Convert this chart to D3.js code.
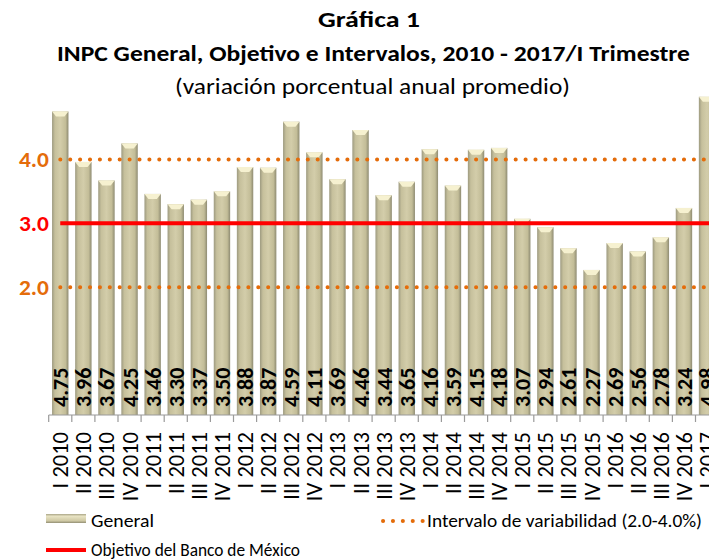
<!DOCTYPE html>
<html>
<head>
<meta charset="utf-8">
<script src="https://cdn.jsdelivr.net/npm/d3@7"></script>
<style>
  body { margin: 0; background: #fff; }
  svg { display: block; font-family: "Carlito", "Liberation Sans Narrow", "DejaVu Sans Condensed", sans-serif; }
</style>
</head>
<body>
<div id="chart"></div>
<script>
  var width = 709;
  var height = 560;

  var categories = ["I 2010","II 2010","III 2010","IV 2010","I 2011","II 2011","III 2011","IV 2011",
    "I 2012","II 2012","III 2012","IV 2012","I 2013","II 2013","III 2013","IV 2013",
    "I 2014","II 2014","III 2014","IV 2014","I 2015","II 2015","III 2015","IV 2015",
    "I 2016","II 2016","III 2016","IV 2016","I 2017"];
  var general = [4.75,3.96,3.67,4.25,3.46,3.30,3.37,3.50,
    3.88,3.87,4.59,4.11,3.69,4.46,3.44,3.65,
    4.16,3.59,4.15,4.18,3.07,2.94,2.61,2.27,
    2.69,2.56,2.78,3.24,4.98];
  var objetivo = 3.0;
  var intervalo = [2.0, 4.0];
  var yTicks = [2.0, 3.0, 4.0];

  var orange = "#e46c0a";
  var red = "#ff0000";

  var svg = d3.select("#chart").append("svg")
      .attr("width", width).attr("height", height);

  var defs = svg.append("defs");
  var grad = defs.append("linearGradient").attr("id", "barGrad")
      .attr("x1", "0%").attr("x2", "100%").attr("y1", "0%").attr("y2", "0%");
  grad.append("stop").attr("offset", "0%").attr("stop-color", "#9d9a80");
  grad.append("stop").attr("offset", "18%").attr("stop-color", "#c6c09c");
  grad.append("stop").attr("offset", "50%").attr("stop-color", "#d3cdaa");
  grad.append("stop").attr("offset", "82%").attr("stop-color", "#c3bd98");
  grad.append("stop").attr("offset", "100%").attr("stop-color", "#8e8b72");

  var gradH = defs.append("linearGradient").attr("id", "legGrad")
      .attr("x1", "0%").attr("x2", "0%").attr("y1", "0%").attr("y2", "100%");
  gradH.append("stop").attr("offset", "0%").attr("stop-color", "#a9a587");
  gradH.append("stop").attr("offset", "25%").attr("stop-color", "#e8e3c3");
  gradH.append("stop").attr("offset", "75%").attr("stop-color", "#cfc9a5");
  gradH.append("stop").attr("offset", "100%").attr("stop-color", "#928e73");

  // titles (the original is slightly stretched horizontally)
  svg.append("text").attr("x", 318).attr("y", 27)
      .attr("textLength", 102).attr("lengthAdjust", "spacingAndGlyphs")
      .style("font-size", "22px").style("font-weight", "bold").text("Gráfica 1");
  svg.append("text").attr("x", 57).attr("y", 61)
      .attr("textLength", 633).attr("lengthAdjust", "spacingAndGlyphs")
      .style("font-size", "22px").style("font-weight", "bold")
      .text("INPC General, Objetivo e Intervalos, 2010 - 2017/I Trimestre");
  svg.append("text").attr("x", 175).attr("y", 94)
      .attr("textLength", 395).attr("lengthAdjust", "spacingAndGlyphs")
      .style("font-size", "22px")
      .text("(variación porcentual anual promedio)");

  // scales
  var x = d3.scaleBand()
      .domain(categories)
      .range([48.7, 718.6])
      .paddingInner(0.29)
      .paddingOuter(0.145);

  var y = d3.scaleLinear()
      .domain([0, 5])
      .range([415, 95.5]);

  // bars
  var bars = svg.append("g").selectAll("g.bar")
      .data(general)
      .enter().append("g").attr("class", "bar");

  bars.append("rect")
      .attr("x", function(d, i) { return x(categories[i]); })
      .attr("y", function(d) { return y(d); })
      .attr("width", x.bandwidth())
      .attr("height", function(d) { return y(0) - y(d); })
      .attr("fill", "url(#barGrad)");

  // bevel at the top of each bar
  bars.append("path")
      .attr("d", function(d, i) {
        var x0 = x(categories[i]), w = x.bandwidth(), t = y(d);
        return "M" + x0 + "," + t + "L" + (x0 + w) + "," + t +
          "L" + (x0 + w - 4) + "," + (t + 5) + "L" + (x0 + 4) + "," + (t + 5) + "Z";
      })
      .attr("fill", "#f6f1d0");

  // x axis
  var xAxis = svg.append("g")
      .attr("transform", "translate(0," + y(0) + ")");
  xAxis.append("line").attr("x1", 48.7).attr("x2", width).attr("y1", 0).attr("y2", 0)
      .attr("stroke", "#9a9a9a").attr("stroke-width", 1.2);
  var step = x.step();
  xAxis.selectAll("line.tick")
      .data(categories.concat(["end"]))
      .enter().append("line").attr("class", "tick")
      .attr("x1", function(d, i) { return 48.7 + i * step; })
      .attr("x2", function(d, i) { return 48.7 + i * step; })
      .attr("y1", 0).attr("y2", 7)
      .attr("stroke", "#9a9a9a").attr("stroke-width", 1.2);

  xAxis.selectAll("text.cat")
      .data(categories)
      .enter().append("text").attr("class", "cat")
      .attr("transform", function(d) {
        return "translate(" + (x(d) + x.bandwidth() / 2 + 8) + ",17) rotate(-90)";
      })
      .attr("text-anchor", "end")
      .style("font-size", "22.5px")
      .text(function(d) { return d; });

  // value labels
  bars.append("text")
      .attr("transform", function(d, i) {
        return "translate(" + (x(categories[i]) + x.bandwidth() / 2 + 8) + "," + (y(0) - 8) + ") rotate(-90)";
      })
      .style("font-size", "22px").style("font-weight", "bold")
      .text(function(d) { return d.toFixed(2); });

  // interval lines
  var lineStart = x(categories[0]) + x.bandwidth() / 2;
  svg.append("g").selectAll("line.int")
      .data(intervalo)
      .enter().append("line")
      .attr("x1", lineStart).attr("x2", width + 10)
      .attr("y1", function(d) { return y(d); })
      .attr("y2", function(d) { return y(d); })
      .attr("stroke", orange).attr("stroke-width", 4)
      .attr("stroke-linecap", "round")
      .attr("stroke-dasharray", "0.1,9.8");

  // objective line
  svg.append("line")
      .attr("x1", lineStart).attr("x2", width + 10)
      .attr("y1", y(objetivo)).attr("y2", y(objetivo))
      .attr("stroke", red).attr("stroke-width", 4);

  // y labels
  svg.append("g").selectAll("text")
      .data(yTicks)
      .enter().append("text")
      .attr("x", 49).attr("y", function(d) { return y(d) + 8; })
      .attr("text-anchor", "end")
      .attr("textLength", 30).attr("lengthAdjust", "spacingAndGlyphs")
      .style("font-size", "23px").style("font-weight", "bold")
      .style("fill", function(d) { return d === objetivo ? red : orange; })
      .text(function(d) { return d.toFixed(1); });

  // legend
  var leg = svg.append("g").style("font-size", "19px");
  leg.append("rect").attr("x", 46).attr("y", 514).attr("width", 40).attr("height", 9)
      .attr("fill", "url(#legGrad)");
  leg.append("text").attr("x", 91).attr("y", 527)
      .attr("textLength", 63).attr("lengthAdjust", "spacingAndGlyphs").text("General");

  leg.append("line").attr("x1", 383).attr("x2", 424).attr("y1", 521).attr("y2", 521)
      .attr("stroke", orange).attr("stroke-width", 4)
      .attr("stroke-linecap", "round").attr("stroke-dasharray", "0.1,9.8");
  leg.append("text").attr("x", 427).attr("y", 527)
      .attr("textLength", 275).attr("lengthAdjust", "spacingAndGlyphs")
      .text("Intervalo de variabilidad (2.0-4.0%)");

  leg.append("line").attr("x1", 46).attr("x2", 86).attr("y1", 550).attr("y2", 550)
      .attr("stroke", red).attr("stroke-width", 4);
  leg.append("text").attr("x", 91).attr("y", 556)
      .attr("textLength", 209).attr("lengthAdjust", "spacingAndGlyphs")
      .text("Objetivo del Banco de México");
</script>
</body>
</html>
